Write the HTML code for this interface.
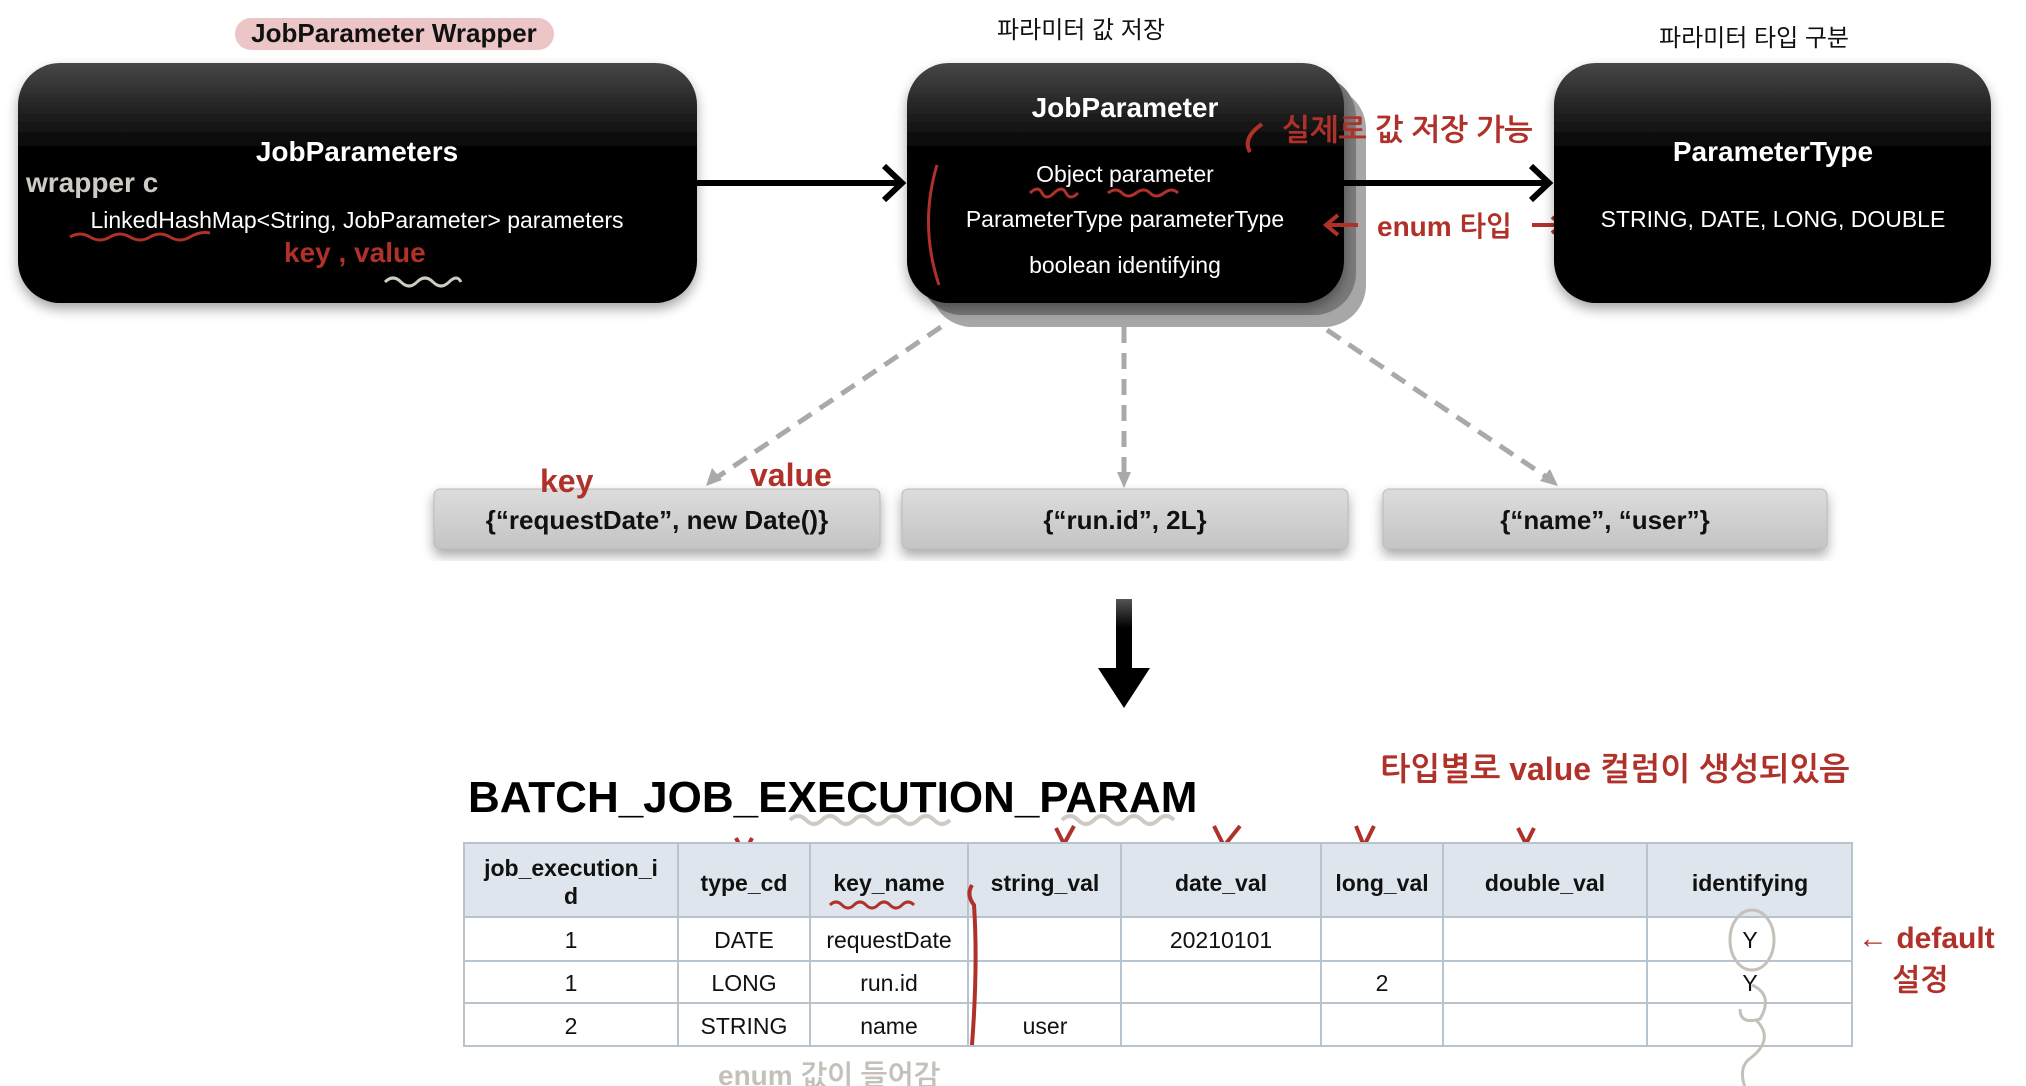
<!DOCTYPE html>
<html><head><meta charset="utf-8"><style>
html,body{margin:0;padding:0;background:#fff;}
svg{display:block;}
text{font-family:"Liberation Sans","Noto Sans CJK KR",sans-serif;}
.h{font-family:"Liberation Sans","NanumGothic","Noto Sans CJK KR",sans-serif;font-weight:bold;fill:#b0312a;}
</style></head><body>
<svg width="2026" height="1086" viewBox="0 0 2026 1086" xmlns="http://www.w3.org/2000/svg">
<defs>
<linearGradient id="bx" x1="0" y1="0" x2="0" y2="1">
<stop offset="0" stop-color="#474747"/><stop offset="0.38" stop-color="#000"/><stop offset="1" stop-color="#000"/>
</linearGradient>
<linearGradient id="gb" x1="0" y1="0" x2="0" y2="1">
<stop offset="0" stop-color="#dcdcdc"/><stop offset="1" stop-color="#c4c4c4"/>
</linearGradient>
<linearGradient id="ar" x1="0" y1="0" x2="0" y2="1">
<stop offset="0" stop-color="#555"/><stop offset="0.4" stop-color="#000"/>
</linearGradient>
<filter id="sh" x="-10%" y="-10%" width="120%" height="130%"><feDropShadow dx="0" dy="6" stdDeviation="6" flood-color="#000" flood-opacity="0.35"/></filter>
</defs>

<!-- top labels -->
<rect x="235" y="18" width="319" height="32" rx="16" fill="#ecc6c6"/>
<text x="394" y="42" font-size="26" font-weight="bold" text-anchor="middle" fill="#111">JobParameter Wrapper</text>
<text x="1081" y="38" font-size="24" text-anchor="middle" fill="#111">파라미터 값 저장</text>
<text x="1754" y="46" font-size="24" text-anchor="middle" fill="#111">파라미터 타입 구분</text>

<!-- left box -->
<rect x="18" y="63" width="679" height="240" rx="42" fill="url(#bx)" filter="url(#sh)"/>
<text x="357" y="161" font-size="28" font-weight="bold" fill="#fff" text-anchor="middle">JobParameters</text>
<text x="357" y="228" font-size="23" fill="#fff" text-anchor="middle">LinkedHashMap&lt;String, JobParameter&gt; parameters</text>
<text x="26" y="192" font-size="28" class="h" style="fill:#cfcbc4">wrapper c</text>
<text x="284" y="262" font-size="28" class="h">key , value</text>
<path d="M70 237 q10 -6 20 0 t20 0 t20 0 t20 0 t20 0 t20 0 t20 -4" stroke="#b0312a" stroke-width="3" fill="none"/>
<path d="M385 282 q8 -8 16 0 t16 0 t16 0 t16 0 t12 0" stroke="#cfcbc4" stroke-width="3" fill="none"/>

<!-- middle box stack -->
<rect x="930" y="87" width="436" height="240" rx="42" fill="#a7a7a7"/>
<rect x="920" y="75" width="436" height="240" rx="42" fill="#7a7a7a"/>
<rect x="907" y="63" width="437" height="240" rx="42" fill="url(#bx)" filter="url(#sh)"/>
<text x="1125" y="117" font-size="28" font-weight="bold" fill="#fff" text-anchor="middle">JobParameter</text>
<text x="1125" y="182" font-size="23" fill="#fff" text-anchor="middle">Object parameter</text>
<text x="1125" y="227" font-size="23" fill="#fff" text-anchor="middle">ParameterType parameterType</text>
<text x="1125" y="273" font-size="23" fill="#fff" text-anchor="middle">boolean identifying</text>
<path d="M1030 193 q8 -8 12 0 t12 0 t12 0 t12 0 M1108 193 q8 -6 14 0 t14 0 t14 0 t14 0 t14 0" stroke="#b0312a" stroke-width="3" fill="none"/>
<path d="M937 165 q-18 60 2 120" stroke="#b0312a" stroke-width="3" fill="none"/>
<text x="1282" y="140" font-size="30" class="h">실제로 값 저장 가능</text>
<path d="M1262 124 q-20 14 -12 28" stroke="#b0312a" stroke-width="4" fill="none"/>
<text x="1377" y="236" font-size="28" class="h">enum 타입</text>
<path d="M1358 225 h-30 m10 -10 l-12 10 l12 10" stroke="#b0312a" stroke-width="4" fill="none"/>
<path d="M1532 225 h30 m-10 -8 l10 8 l-10 8" stroke="#b0312a" stroke-width="4" fill="none"/>

<!-- right box -->
<rect x="1554" y="63" width="437" height="240" rx="42" fill="url(#bx)" filter="url(#sh)"/>
<text x="1773" y="161" font-size="28" font-weight="bold" fill="#fff" text-anchor="middle">ParameterType</text>
<text x="1773" y="227" font-size="23" fill="#fff" text-anchor="middle">STRING, DATE, LONG, DOUBLE</text>

<!-- arrows -->
<path d="M697 183 H900 M884 166 L902 183 L884 200" stroke="#000" stroke-width="6" fill="none"/>
<path d="M1344 183 H1548 M1531 166 L1549 183 L1531 200" stroke="#000" stroke-width="6" fill="none"/>

<!-- dashed -->
<g stroke="#a9a9a9" stroke-width="5" stroke-dasharray="16 10" fill="none">
<path d="M941 327 L716 478"/><path d="M1124 327 L1124 474"/><path d="M1327 330 L1548 478"/>
</g>
<g fill="#a9a9a9">
<path d="M706 486 L712 468 L722 480 Z"/><path d="M1124 488 L1117 472 L1131 472 Z"/><path d="M1558 486 L1540 481 L1550 469 Z"/>
</g>

<!-- gray boxes -->
<g filter="url(#sh)">
<rect x="434" y="489" width="446" height="60" rx="6" fill="url(#gb)" stroke="#bbb"/>
<rect x="902" y="489" width="446" height="60" rx="6" fill="url(#gb)" stroke="#bbb"/>
<rect x="1383" y="489" width="444" height="60" rx="6" fill="url(#gb)" stroke="#bbb"/>
</g>
<text x="657" y="529" font-size="26" font-weight="bold" text-anchor="middle" fill="#111">{“requestDate”, new Date()}</text>
<text x="1125" y="529" font-size="26" font-weight="bold" text-anchor="middle" fill="#111">{“run.id”, 2L}</text>
<text x="1605" y="529" font-size="26" font-weight="bold" text-anchor="middle" fill="#111">{“name”, “user”}</text>
<text x="540" y="492" font-size="32" class="h">key</text>
<text x="750" y="486" font-size="32" class="h">value</text>

<!-- big arrow -->
<rect x="1116" y="599" width="16" height="72" fill="url(#ar)"/>
<path d="M1098 668 L1150 668 L1124 708 Z" fill="#000"/>

<!-- table title -->
<text x="468" y="812" font-size="44" font-weight="bold" fill="#000">BATCH_JOB_EXECUTION_PARAM</text>
<text x="1380" y="780" font-size="32" class="h">타입별로 value 컬럼이 생성되있음</text>
<path d="M790 820 q8 -8 16 0 t16 0 t16 0 t16 0 t16 0 t16 0 t16 0 t16 0 t16 0 t16 0 M1062 820 q8 -8 16 0 t16 0 t16 0 t16 0 t16 0 t16 0 t16 0" stroke="#cfcbc4" stroke-width="4" fill="none"/>
<g stroke="#b0312a" stroke-width="4" fill="none">
<path d="M736 838 l8 16 l8 -16"/><path d="M1056 828 l8 16 l10 -18"/><path d="M1214 826 l10 20 l16 -20"/><path d="M1356 826 l8 20 l10 -20"/><path d="M1518 828 l8 16 l8 -16"/>
</g>

<!-- table -->
<rect x="464" y="843" width="1388" height="74" fill="#dfe5ec"/>
<g stroke="#b7c4cf" stroke-width="2" fill="none">
<rect x="464" y="843" width="1388" height="203"/>
<path d="M464 917 H1852 M464 961 H1852 M464 1003 H1852"/>
<path d="M678 843 V1046 M810 843 V1046 M968 843 V1046 M1121 843 V1046 M1321 843 V1046 M1443 843 V1046 M1647 843 V1046"/>
</g>
<g font-size="23" text-anchor="middle" fill="#111">
<text x="571" y="876" font-weight="bold">job_execution_i</text>
<text x="571" y="904" font-weight="bold">d</text>
<text x="744" y="891" font-weight="bold">type_cd</text>
<text x="889" y="891" font-weight="bold">key_name</text>
<text x="1045" y="891" font-weight="bold">string_val</text>
<text x="1221" y="891" font-weight="bold">date_val</text>
<text x="1382" y="891" font-weight="bold">long_val</text>
<text x="1545" y="891" font-weight="bold">double_val</text>
<text x="1750" y="891" font-weight="bold">identifying</text>
<text x="571" y="948">1</text><text x="744" y="948">DATE</text><text x="889" y="948">requestDate</text><text x="1221" y="948">20210101</text><text x="1750" y="948">Y</text>
<text x="571" y="991">1</text><text x="744" y="991">LONG</text><text x="889" y="991">run.id</text><text x="1382" y="991">2</text><text x="1750" y="991">Y</text>
<text x="571" y="1034">2</text><text x="744" y="1034">STRING</text><text x="889" y="1034">name</text><text x="1045" y="1034">user</text>
</g>
<path d="M830 905 q6 -6 12 0 t12 0 t12 0 t12 0 t12 0 t12 0 t12 0" stroke="#b0312a" stroke-width="3" fill="none"/>
<path d="M972 885 q-6 10 2 20 q4 60 -2 140" stroke="#b0312a" stroke-width="4" fill="none"/>
<g stroke="#c4c0ba" stroke-width="3" fill="none">
<ellipse cx="1752" cy="940" rx="22" ry="30"/>
<path d="M1752 985 q22 10 8 34 q-20 6 -20 -10"/>
<path d="M1756 1020 q20 20 -8 40 q-10 10 -2 30"/>
</g>
<text x="1858" y="948" font-size="30" class="h">← default</text>
<text x="1892" y="990" font-size="30" class="h">설정</text>
<text x="718" y="1085" font-size="28" class="h" style="fill:#c4c0ba">enum 값이 들어감</text>
</svg>
</body></html>
